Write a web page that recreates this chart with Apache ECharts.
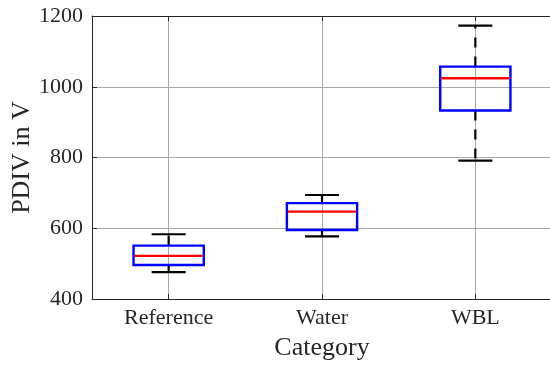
<!DOCTYPE html>
<html>
<head>
<meta charset="utf-8">
<script src="https://cdn.jsdelivr.net/npm/echarts@6/dist/echarts.min.js"></script>
<style>
  html, body { margin: 0; padding: 0; background: #fff; }
  #chart { width: 550px; height: 366px; }
</style>
</head>
<body>
<div id="chart"></div>
<script>
// PDIV distribution per category (box-and-whisker summary, volts)
const categories = ['Reference', 'Water', 'WBL'];
const lowerWhisker = [476, 577, 791];
const quartile1 = [496, 595, 933];
const medians = [522, 647, 1024];
const quartile3 = [551, 671, 1057];
const upperWhisker = [583, 694, 1173];
const yTicks = { min: 400, max: 1200, step: 200 };

const FONT = '"Liberation Serif", "Times New Roman", serif';
const INK = '#262626';
const GRID = '#a8a8a8';

const boxData = categories.map((c, i) => [
  i, lowerWhisker[i], quartile1[i], medians[i], quartile3[i], upperWhisker[i]
]);

function renderBox(params, api) {
  const idx = api.value(0);
  const band = api.size([1, 0])[0];
  const boxHalf = band * 0.229;
  const capHalf = band * 0.111;
  const pLow = api.coord([idx, api.value(1)]);
  const pQ1 = api.coord([idx, api.value(2)]);
  const pMed = api.coord([idx, api.value(3)]);
  const pQ3 = api.coord([idx, api.value(4)]);
  const pHigh = api.coord([idx, api.value(5)]);
  const cx = pMed[0];
  const whiskerStyle = { stroke: '#000', lineWidth: 2.2, lineDash: [10, 9], fill: null };
  const capStyle = { stroke: '#000', lineWidth: 2.2, fill: null };
  return {
    type: 'group',
    children: [
      { type: 'line', shape: { x1: cx, y1: pQ3[1], x2: cx, y2: pHigh[1] }, style: whiskerStyle },
      { type: 'line', shape: { x1: cx, y1: pQ1[1], x2: cx, y2: pLow[1] }, style: whiskerStyle },
      { type: 'line', shape: { x1: cx - capHalf, y1: pHigh[1], x2: cx + capHalf, y2: pHigh[1] }, style: capStyle },
      { type: 'line', shape: { x1: cx - capHalf, y1: pLow[1], x2: cx + capHalf, y2: pLow[1] }, style: capStyle },
      {
        type: 'rect',
        shape: { x: cx - boxHalf, y: pQ3[1], width: boxHalf * 2, height: pQ1[1] - pQ3[1] },
        style: { stroke: '#0000ff', lineWidth: 2.4, fill: 'rgba(0,0,0,0)' }
      },
      {
        type: 'line',
        shape: { x1: cx - boxHalf + 1, y1: pMed[1], x2: cx + boxHalf - 1, y2: pMed[1] },
        style: { stroke: '#ff0000', lineWidth: 2.4 }
      }
    ]
  };
}

const chart = echarts.init(document.getElementById('chart'), null, { renderer: 'canvas' });
chart.setOption({
  backgroundColor: '#ffffff',
  animation: false,
  grid: { left: 92, top: 16, right: -2, bottom: 67, containLabel: false, outerBoundsMode: 'none' },
  xAxis: [
    {
      type: 'category',
      data: categories,
      boundaryGap: true,
      name: 'Category',
      nameLocation: 'middle',
      nameGap: 36,
      nameMoveOverlap: false,
      nameTextStyle: { fontFamily: FONT, fontSize: 26, color: INK },
      axisLine: { show: true, lineStyle: { color: INK, width: 1 } },
      axisTick: { show: true, inside: true, length: 5, alignWithLabel: true, lineStyle: { color: INK } },
      axisLabel: { fontFamily: FONT, fontSize: 22, color: INK, margin: 8 },
      splitLine: { show: true, alignWithLabel: true, lineStyle: { color: GRID, width: 1 } }
    },
    {
      type: 'category',
      data: categories,
      position: 'top',
      boundaryGap: true,
      axisLine: { show: true, lineStyle: { color: INK, width: 1 } },
      axisTick: { show: true, inside: true, length: 5, alignWithLabel: true, lineStyle: { color: INK } },
      axisLabel: { show: false },
      splitLine: { show: false }
    }
  ],
  yAxis: {
    type: 'value',
    min: yTicks.min,
    max: yTicks.max,
    interval: yTicks.step,
    name: 'PDIV in V',
    nameLocation: 'middle',
    nameGap: 57,
    nameMoveOverlap: false,
    nameTextStyle: { fontFamily: FONT, fontSize: 26, color: INK },
    axisLine: { show: true, lineStyle: { color: INK, width: 1 } },
    axisTick: { show: true, inside: true, length: 5, lineStyle: { color: INK } },
    axisLabel: { fontFamily: FONT, fontSize: 22, color: INK, margin: 9, formatter: (v) => String(v) },
    splitLine: { show: true, lineStyle: { color: GRID, width: 1 } }
  },
  series: [
    {
      type: 'custom',
      renderItem: renderBox,
      data: boxData,
      encode: { x: 0, y: [1, 2, 3, 4, 5] },
      z: 5,
      clip: false
    }
  ]
});
</script>
</body>
</html>
